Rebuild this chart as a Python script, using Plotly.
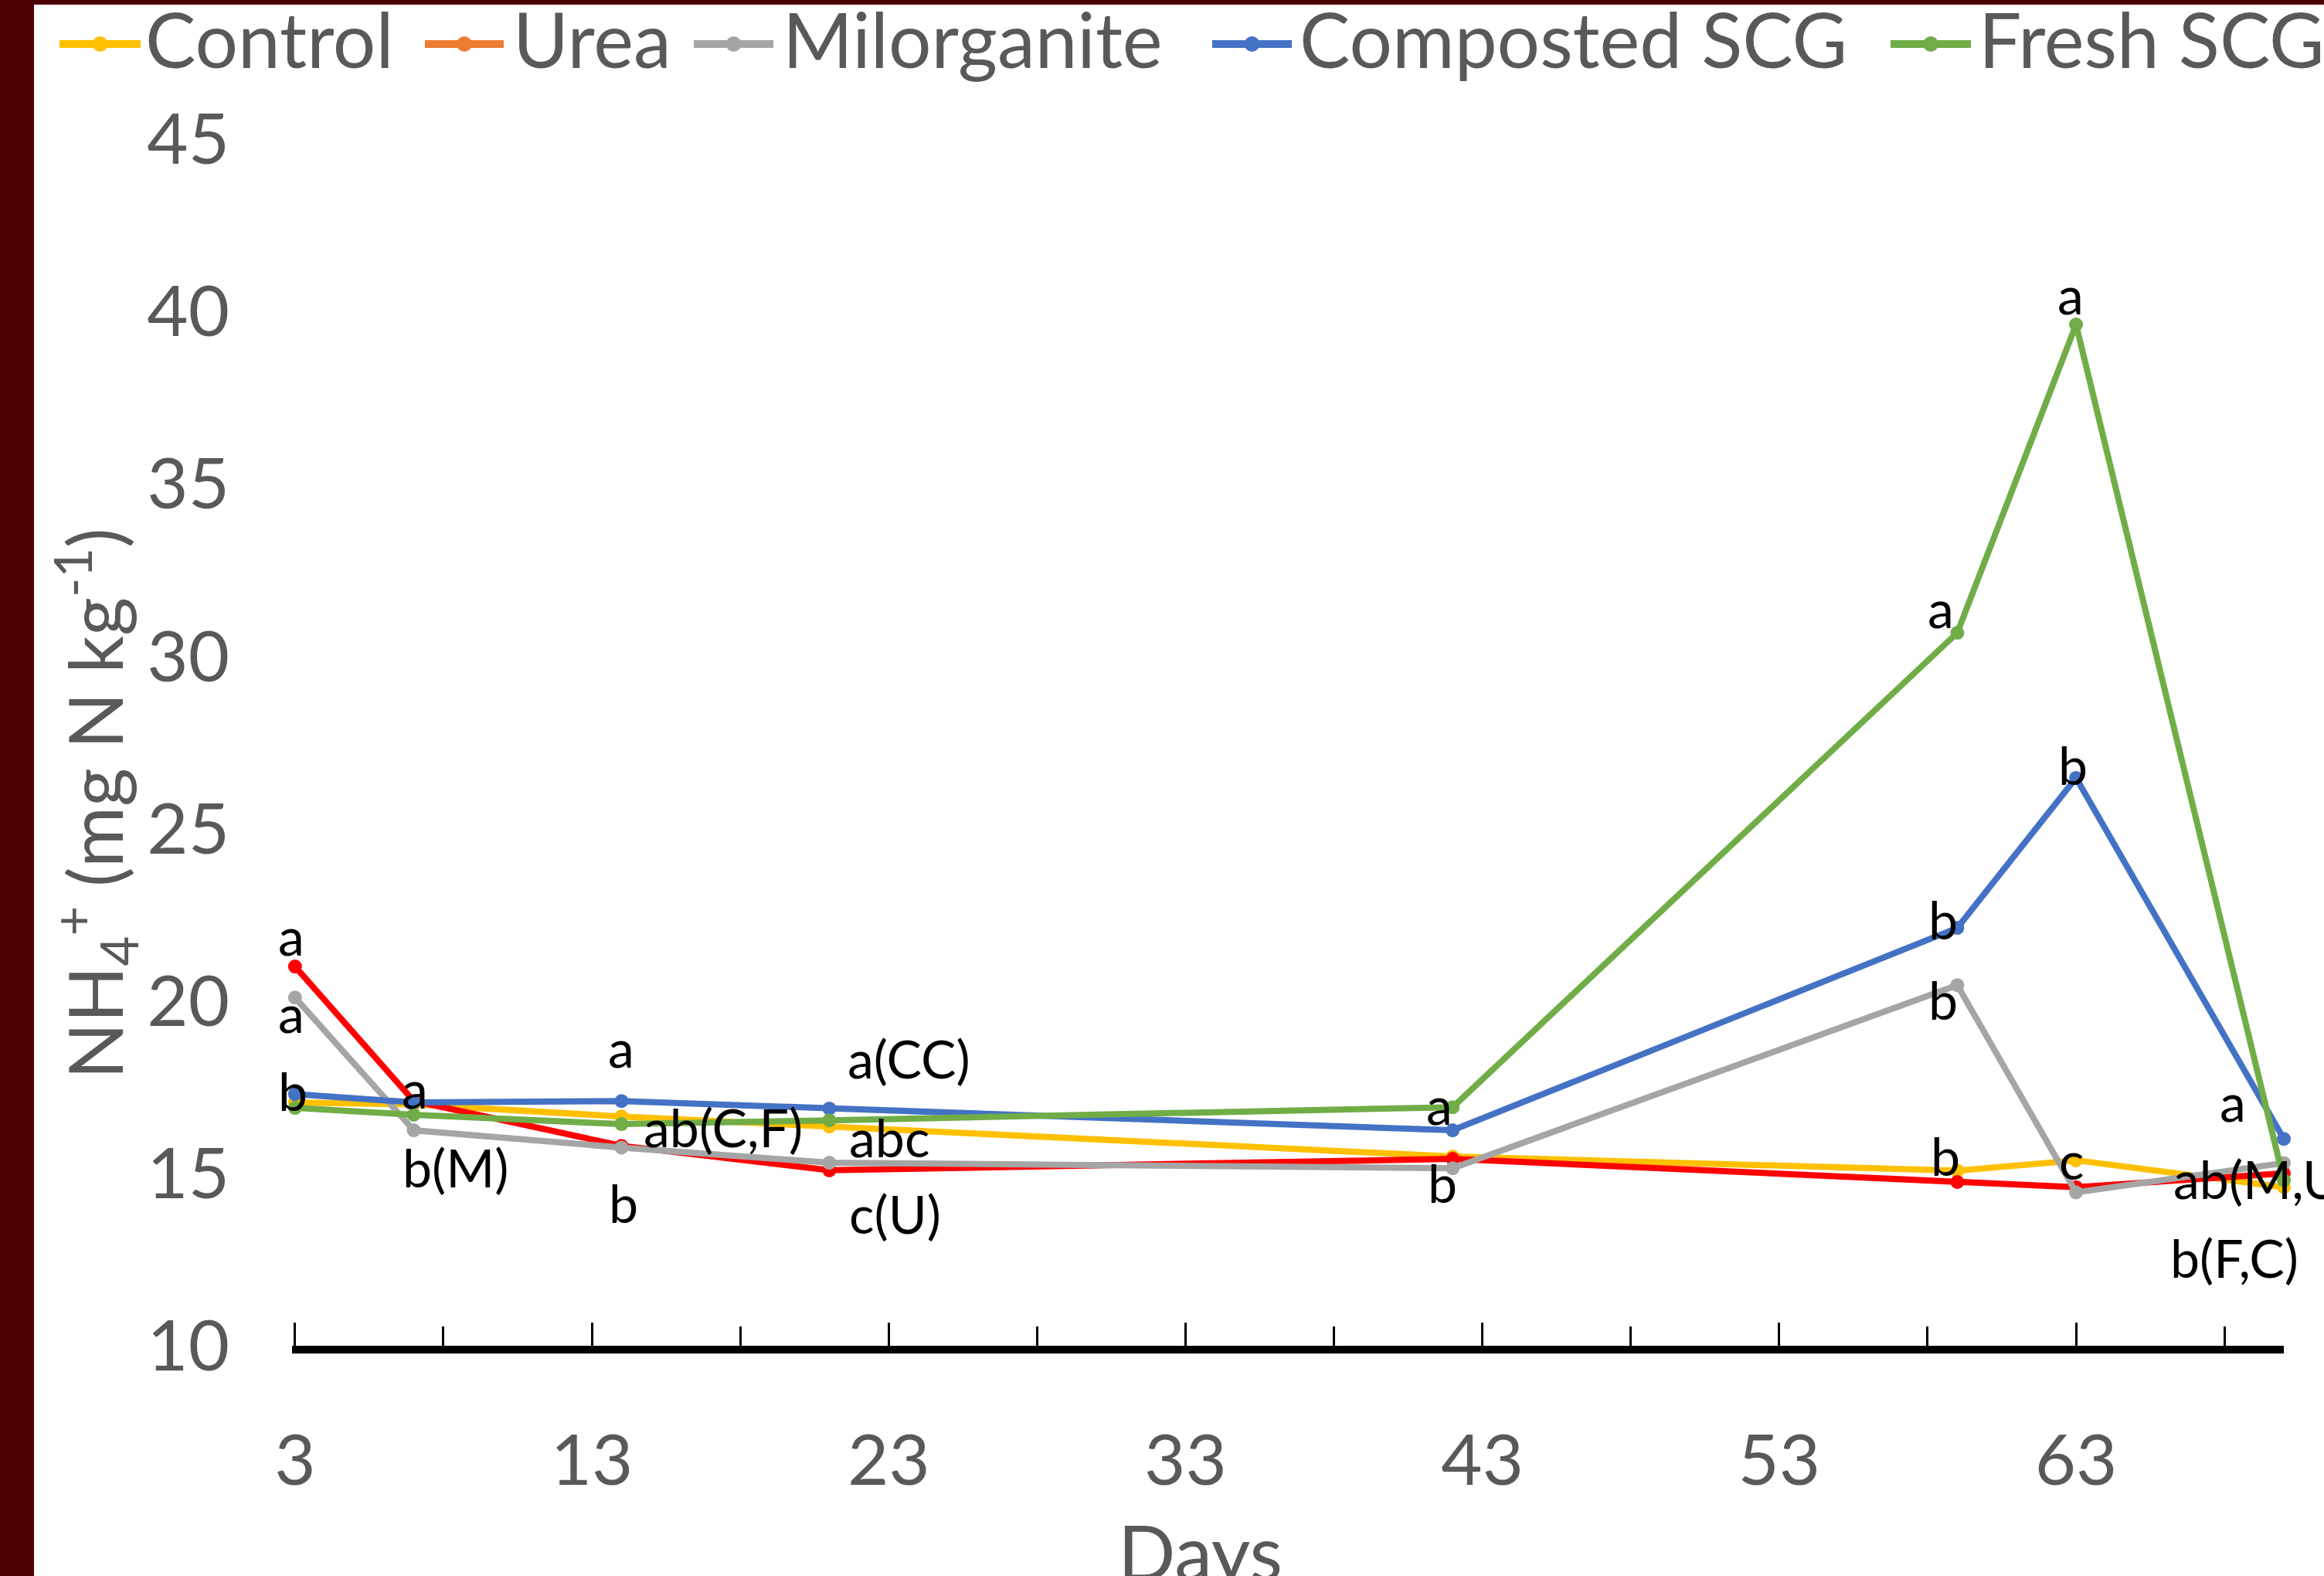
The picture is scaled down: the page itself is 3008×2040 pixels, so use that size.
import plotly.graph_objects as go

# ---------------- data ----------------
days = [3, 7, 14, 21, 42, 59, 63, 70]
series_names = ["Control", "Urea", "Milorganite", "Composted SCG", "Fresh SCG"]
control = [17.06, 17.0, 16.65, 16.36, 15.49, 15.08, 15.38, 14.6]
urea = [21.0, 17.1, 15.8, 15.09, 15.42, 14.75, 14.6, 15.0]
milorganite = [20.1, 16.25, 15.75, 15.31, 15.15, 20.46, 14.45, 15.3]
composted = [17.3, 17.06, 17.1, 16.88, 16.25, 22.12, 26.47, 16.0]
fresh = [16.9, 16.7, 16.43, 16.54, 16.92, 30.68, 39.62, 14.8]
values = [control, urea, milorganite, composted, fresh]

x_tick_vals = [3, 13, 23, 33, 43, 53, 63]
x_minor_vals = [8, 18, 28, 38, 48, 58, 68]
y_tick_vals = [10, 15, 20, 25, 30, 35, 40, 45]

# significance letters: (text, series index, day index)
label_text = ["a", "a", "b", "a", "b(M)", "a", "ab(C,F)", "b", "a(CC)", "abc", "c(U)",
              "a", "b", "a", "b", "b", "b", "a", "b", "c", "a", "ab(M,U)", "b(F,C)"]
label_series = [1, 2, 3, 1, 2, 3, 0, 1, 3, 0, 1, 4, 2, 4, 3, 2, 0, 4, 3, 0, 3, 2, 4]
label_day_idx = [0, 0, 0, 1, 1, 2, 2, 2, 3, 3, 3, 4, 4, 5, 5, 5, 5, 6, 6, 6, 7, 7, 7]

# ---------------- styles ----------------
line_colors = ["#FFC000", "#FF0000", "#A5A5A5", "#4472C4", "#70AD47"]
legend_colors = ["#FFC000", "#ED7D31", "#A5A5A5", "#4472C4", "#70AD47"]
# pixel offsets of the letter labels from their points (x right, y up)
label_shift = [(-5, 41), (-5, -19), (-3, 5), (1, 17), (54, -47), (0, 70), (132, -13),
               (3, -73), (103, 65), (78, -13), (85, -56), (-17, 4), (-13, -18),
               (-21, 33), (-18, 12), (-18, -18), (-15, 20), (-7, 40), (-4, 17),
               (-6, 1), (-66, 49), (-145, -20), (-64, -100)]
label_anchor = ["center"] * 21 + ["left", "center"]

W, H = 3008, 2040
ML, MR, MT, MB = 378, 52, 180, 298
PW, PH = W - ML - MR, H - MT - MB
FONT = "Lato"
GRAY = "#595959"


def X(px):
    return (px - ML) / PW


def Y(py):
    return (H - MB - py) / PH


fig = go.Figure()
for name, vals, col in zip(series_names, values, line_colors):
    fig.add_trace(go.Scatter(
        x=days, y=vals, name=name, mode="lines+markers",
        line=dict(color=col, width=8),
        marker=dict(color=col, size=18),
        cliponaxis=False, showlegend=False,
    ))

annotations = []
for txt, si, di, (dx, dy), anc in zip(label_text, label_series, label_day_idx, label_shift, label_anchor):
    annotations.append(dict(
        x=days[di], y=values[si][di], xref="x", yref="y", text=txt, showarrow=False,
        xanchor=anc, yanchor="middle", xshift=dx, yshift=dy,
        font=dict(family=FONT, size=68, color="black"),
    ))

shapes = []
# dark border on left and top
shapes.append(dict(type="rect", xref="paper", yref="paper", x0=X(0), x1=X(44), y0=Y(H), y1=Y(0),
                   fillcolor="#4B0000", line=dict(width=0), layer="above"))
shapes.append(dict(type="rect", xref="paper", yref="paper", x0=X(0), x1=X(W), y0=Y(6), y1=Y(0),
                   fillcolor="#4B0000", line=dict(width=0), layer="above"))

# legend drawn manually (it runs past the right edge in the reference)
leg_line_x = [(77, 182), (550, 652), (898, 1001), (1569, 1672), (2447, 2551)]
leg_text_x = [186, 662, 1011, 1680, 2559]
leg_y = 57
for name, col, (a, b), tx in zip(series_names, legend_colors, leg_line_x, leg_text_x):
    shapes.append(dict(type="line", xref="paper", yref="paper", x0=X(a), x1=X(b), y0=Y(leg_y), y1=Y(leg_y),
                       line=dict(color=col, width=10)))
    c = (a + b) / 2
    shapes.append(dict(type="circle", xref="paper", yref="paper", x0=X(c - 10), x1=X(c + 10),
                       y0=Y(leg_y + 10), y1=Y(leg_y - 10), fillcolor=col, line=dict(width=0)))
    annotations.append(dict(x=X(tx), y=Y(50), xref="paper", yref="paper", text=name, showarrow=False,
                            xanchor="left", yanchor="middle",
                            font=dict(family=FONT, size=98, color=GRAY)))

# axis titles
annotations.append(dict(x=X(123), y=Y(1040), xref="paper", yref="paper",
                        text="NH<sub>4</sub><sup>+</sup> (mg N kg<sup>-1</sup>)", textangle=-90,
                        showarrow=False, xanchor="center", yanchor="middle",
                        font=dict(family=FONT, size=96, color=GRAY)))
annotations.append(dict(x=X(1553), y=Y(2008), xref="paper", yref="paper", text="Days",
                        showarrow=False, xanchor="center", yanchor="middle",
                        font=dict(family=FONT, size=98, color=GRAY)))

fig.update_layout(
    width=W, height=H,
    margin=dict(l=ML, r=MR, t=MT, b=MB, autoexpand=False),
    paper_bgcolor="white", plot_bgcolor="white",
    showlegend=False,
    annotations=annotations, shapes=shapes,
    xaxis=dict(range=[2.9, 70], tickmode="array", tickvals=x_tick_vals,
               ticktext=[str(v) for v in x_tick_vals],
               showgrid=False, zeroline=False, showline=True, linewidth=10, linecolor="black",
               ticks="inside", ticklen=30, tickwidth=3, tickcolor="black",
               minor=dict(tickmode="array", tickvals=x_minor_vals, ticks="inside", ticklen=25,
                          tickwidth=3, tickcolor="black", showgrid=False),
               ticklabelstandoff=60,
               tickfont=dict(family=FONT, size=92, color=GRAY)),
    yaxis=dict(range=[10, 45], tickmode="array", tickvals=y_tick_vals,
               showgrid=False, zeroline=False, showline=False, ticks="",
               ticklabelstandoff=80,
               tickfont=dict(family=FONT, size=92, color=GRAY)),
)

fig.write_html("out.html", config={"displayModeBar": False},
               post_script="document.body.style.margin='0';document.body.style.overflow='hidden';")
